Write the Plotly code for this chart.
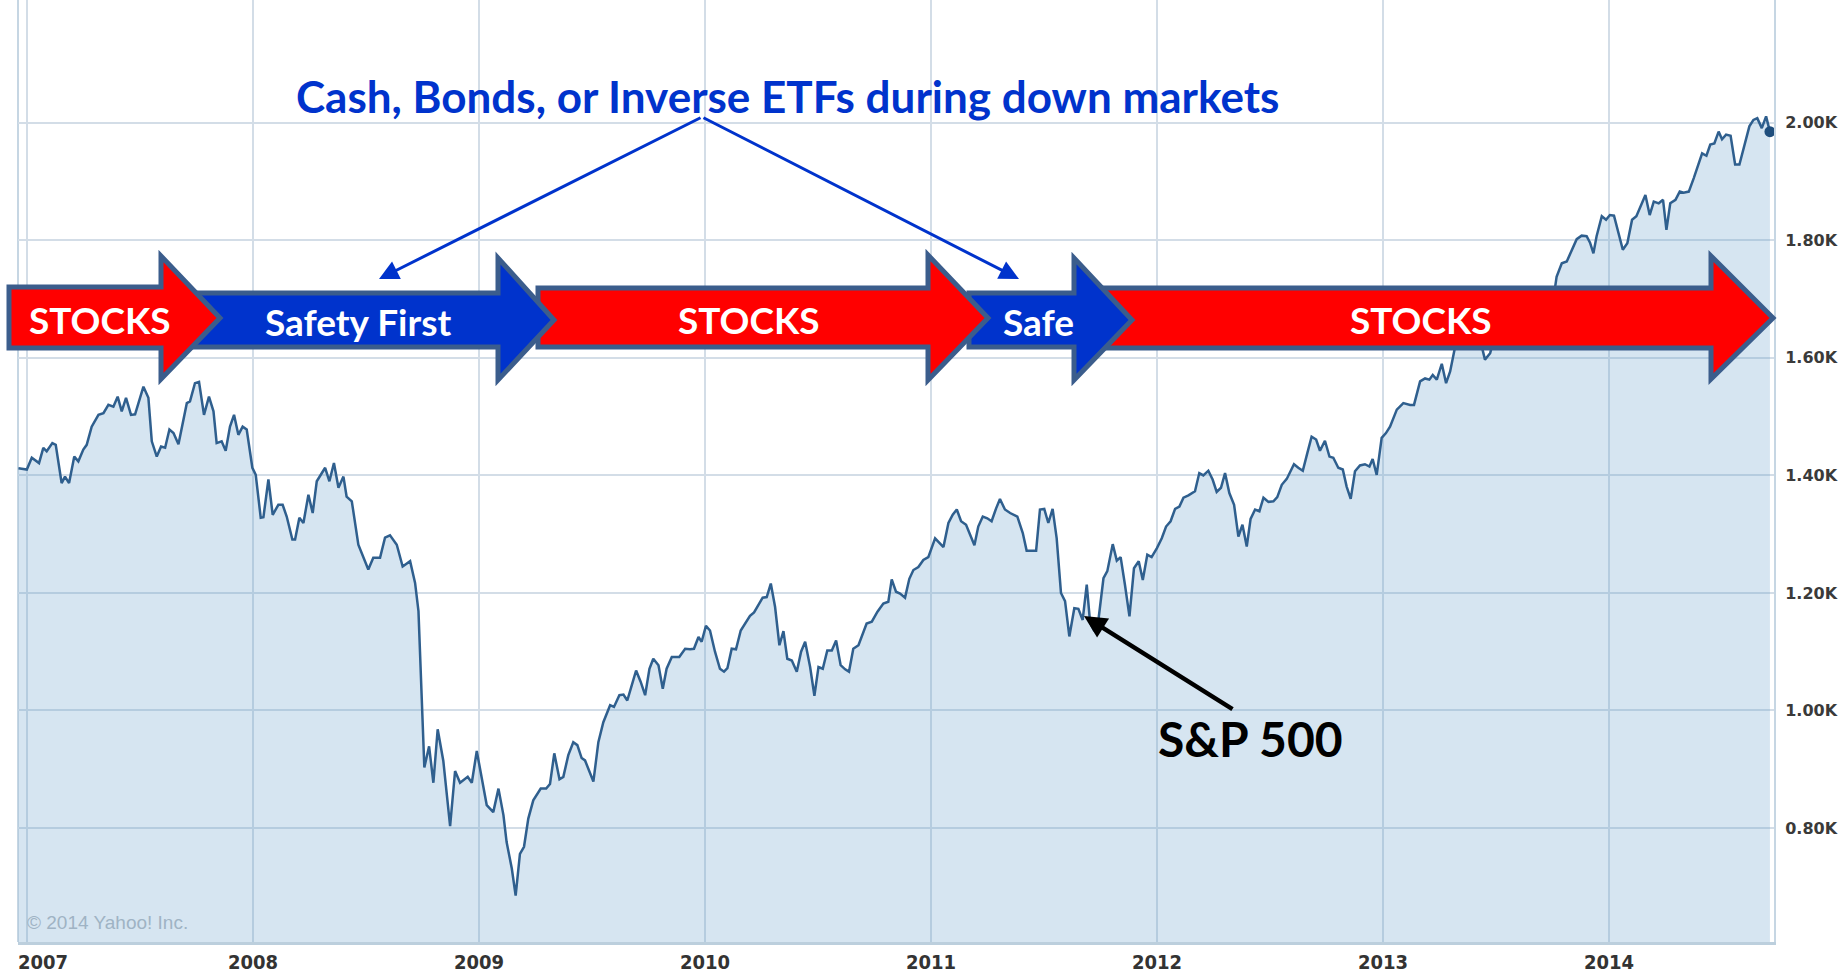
import plotly.graph_objects as go

# ---------------- data (decimal year, S&P 500 weekly close) -------------
t_0708 = [2006.962, 2006.999, 2007.021, 2007.053, 2007.072, 2007.087, 2007.112, 2007.127, 2007.153, 2007.168,
          2007.186, 2007.209, 2007.227, 2007.249, 2007.264, 2007.286, 2007.316, 2007.338, 2007.360, 2007.382,
          2007.401, 2007.419, 2007.438, 2007.460, 2007.478, 2007.515, 2007.537, 2007.552, 2007.574, 2007.593,
          2007.611, 2007.630, 2007.648, 2007.670, 2007.707, 2007.721, 2007.743, 2007.761, 2007.783, 2007.805,
          2007.825, 2007.839, 2007.861, 2007.879, 2007.898, 2007.916, 2007.935, 2007.954, 2007.972, 2007.997,
          2008.012, 2008.034, 2008.046, 2008.068, 2008.087, 2008.112, 2008.131, 2008.149, 2008.174, 2008.186,
          2008.205, 2008.223, 2008.245, 2008.264, 2008.282, 2008.319, 2008.338, 2008.358, 2008.378, 2008.400,
          2008.414, 2008.437, 2008.466, 2008.488, 2008.510, 2008.532, 2008.562, 2008.584, 2008.606, 2008.636,
          2008.662, 2008.695, 2008.717, 2008.732, 2008.746, 2008.758, 2008.779, 2008.798, 2008.817, 2008.842,
          2008.872, 2008.894, 2008.916, 2008.950, 2008.968, 2008.990]
v_0708 = [1412, 1410, 1430, 1421, 1447, 1441, 1455, 1452, 1387, 1398,
          1387, 1432, 1424, 1444, 1452, 1483, 1503, 1506, 1520, 1517,
          1534, 1509, 1532, 1503, 1504, 1551, 1532, 1458, 1432, 1449,
          1447, 1478, 1472, 1453, 1523, 1526, 1557, 1559, 1503, 1534,
          1509, 1455, 1458, 1442, 1483, 1503, 1469, 1483, 1478, 1413,
          1401, 1328, 1329, 1393, 1333, 1350, 1350, 1330, 1291, 1291,
          1328, 1319, 1367, 1336, 1390, 1413, 1390, 1421, 1379, 1398,
          1364, 1356, 1282, 1260, 1240, 1260, 1260, 1294, 1298, 1282,
          1245, 1254, 1217, 1169, 1027, 903, 939, 877, 968, 914,
          803, 897, 877, 887, 877, 931]

t_0910 = [2009.034, 2009.063, 2009.086, 2009.108, 2009.122, 2009.145, 2009.162, 2009.181, 2009.199, 2009.218,
          2009.240, 2009.273, 2009.297, 2009.314, 2009.333, 2009.356, 2009.373, 2009.395, 2009.417, 2009.435,
          2009.454, 2009.469, 2009.506, 2009.528, 2009.550, 2009.580, 2009.597, 2009.621, 2009.639, 2009.656,
          2009.676, 2009.695, 2009.715, 2009.735, 2009.754, 2009.771, 2009.794, 2009.813, 2009.830, 2009.853,
          2009.886, 2009.912, 2009.934, 2009.951, 2009.971, 2009.985, 2010.004, 2010.022, 2010.044, 2010.066,
          2010.084, 2010.099, 2010.118, 2010.137, 2010.158, 2010.181, 2010.199, 2010.217, 2010.236, 2010.255,
          2010.273, 2010.291, 2010.310, 2010.329, 2010.347, 2010.364, 2010.384, 2010.406, 2010.425, 2010.443,
          2010.465, 2010.484, 2010.502, 2010.521, 2010.541, 2010.561, 2010.580, 2010.600, 2010.620, 2010.637,
          2010.656, 2010.679, 2010.715, 2010.738, 2010.763, 2010.789, 2010.811, 2010.826, 2010.845, 2010.863,
          2010.885, 2010.904, 2010.922, 2010.944, 2010.966, 2010.988]
v_0910 = [839, 827, 867, 822, 776, 731, 685, 756, 768, 816,
          847, 867, 867, 875, 927, 883, 887, 924, 946, 941,
          919, 915, 879, 946, 980, 1009, 1006, 1026, 1027, 1017,
          1043, 1068, 1049, 1026, 1071, 1088, 1077, 1037, 1071, 1091,
          1091, 1105, 1104, 1105, 1125, 1117, 1144, 1136, 1100, 1071,
          1066, 1072, 1105, 1104, 1136, 1151, 1161, 1167, 1179, 1192,
          1193, 1216, 1176, 1111, 1135, 1088, 1085, 1066, 1100, 1117,
          1074, 1025, 1074, 1071, 1102, 1102, 1119, 1077, 1070, 1066,
          1105, 1111, 1148, 1151, 1168, 1182, 1185, 1223, 1202, 1199,
          1192, 1224, 1239, 1244, 1256, 1261]

t_1112 = [2011.018, 2011.037, 2011.055, 2011.077, 2011.096, 2011.114, 2011.133, 2011.155, 2011.173, 2011.192,
          2011.209, 2011.229, 2011.249, 2011.268, 2011.288, 2011.305, 2011.327, 2011.350, 2011.382, 2011.406,
          2011.423, 2011.445, 2011.465, 2011.482, 2011.501, 2011.519, 2011.538, 2011.556, 2011.575, 2011.593,
          2011.612, 2011.634, 2011.652, 2011.671, 2011.689, 2011.704, 2011.723, 2011.740, 2011.763, 2011.780,
          2011.804, 2011.822, 2011.839, 2011.858, 2011.878, 2011.898, 2011.919, 2011.937, 2011.957, 2011.976,
          2011.999, 2012.021, 2012.040, 2012.060, 2012.080, 2012.099, 2012.117, 2012.139, 2012.168, 2012.187,
          2012.205, 2012.227, 2012.246, 2012.264, 2012.283, 2012.301, 2012.320, 2012.341, 2012.360, 2012.378,
          2012.397, 2012.414, 2012.434, 2012.453, 2012.471, 2012.493, 2012.515, 2012.532, 2012.552, 2012.574,
          2012.589, 2012.606, 2012.625, 2012.645, 2012.665, 2012.684, 2012.704, 2012.721, 2012.743, 2012.763,
          2012.780, 2012.802, 2012.822, 2012.839, 2012.857, 2012.876, 2012.898, 2012.920, 2012.940, 2012.954,
          2012.972, 2012.994, 2013.013, 2013.031]
v_1112 = [1293, 1285, 1278, 1319, 1333, 1342, 1322, 1316, 1299, 1281,
          1313, 1330, 1327, 1322, 1344, 1360, 1342, 1336, 1330, 1302,
          1272, 1272, 1272, 1342, 1343, 1319, 1343, 1293, 1200, 1186,
          1126, 1174, 1173, 1154, 1214, 1149, 1135, 1152, 1225, 1237,
          1283, 1255, 1261, 1214, 1160, 1242, 1254, 1222, 1265, 1261,
          1276, 1293, 1313, 1322, 1343, 1347, 1362, 1366, 1373, 1404,
          1400, 1408, 1393, 1372, 1379, 1404, 1370, 1350, 1296, 1316,
          1279, 1326, 1342, 1339, 1362, 1355, 1356, 1363, 1384, 1394,
          1407, 1419, 1413, 1408, 1438, 1466, 1461, 1442, 1459, 1432,
          1430, 1413, 1410, 1381, 1360, 1407, 1417, 1419, 1415, 1428,
          1401, 1464, 1472, 1483]

t_1314 = [2013.061, 2013.090, 2013.120, 2013.137, 2013.164, 2013.186, 2013.205, 2013.220, 2013.238, 2013.260,
          2013.279, 2013.297, 2013.319, 2013.338, 2013.357, 2013.376, 2013.395, 2013.414, 2013.433, 2013.451,
          2013.474, 2013.490, 2013.510, 2013.529, 2013.548, 2013.567, 2013.586, 2013.605, 2013.625, 2013.644,
          2013.663, 2013.682, 2013.701, 2013.720, 2013.739, 2013.755, 2013.768, 2013.791, 2013.813, 2013.835,
          2013.857, 2013.879, 2013.901, 2013.916, 2013.931, 2013.945, 2013.968, 2013.987, 2014.004, 2014.022,
          2014.041, 2014.061, 2014.081, 2014.102, 2014.121, 2014.142, 2014.161, 2014.180, 2014.198, 2014.220,
          2014.239, 2014.254, 2014.271, 2014.294, 2014.313, 2014.330, 2014.353, 2014.375, 2014.397, 2014.412,
          2014.431, 2014.448, 2014.466, 2014.485, 2014.500, 2014.518, 2014.538, 2014.558, 2014.577, 2014.597,
          2014.621, 2014.639, 2014.656, 2014.676, 2014.695, 2014.712]
v_1314 = [1512, 1523, 1520, 1520, 1560, 1565, 1563, 1571, 1563, 1590,
          1557, 1577, 1619, 1633, 1650, 1667, 1650, 1643, 1626, 1597,
          1608, 1631, 1676, 1680, 1692, 1709, 1691, 1655, 1664, 1633,
          1655, 1688, 1710, 1692, 1690, 1703, 1738, 1761, 1764, 1784,
          1802, 1808, 1807, 1796, 1778, 1807, 1841, 1835, 1843, 1842,
          1812, 1784, 1795, 1835, 1841, 1860, 1877, 1843, 1866, 1863,
          1869, 1818, 1863, 1869, 1883, 1881, 1883, 1906, 1931, 1948,
          1944, 1963, 1965, 1985, 1972, 1980, 1978, 1929, 1929, 1957,
          1994, 2005, 2008, 1991, 2011, 1985]

years = t_0708 + t_0910 + t_1112 + t_1314
spx = v_0708 + v_0910 + v_1112 + v_1314

year_ticks = [2007, 2008, 2009, 2010, 2011, 2012, 2013, 2014]
year_labels = ["2007", "2008", "2009", "2010", "2011", "2012", "2013", "2014"]
price_ticks = [800, 1000, 1200, 1400, 1600, 1800, 2000]
price_labels = ["0.80K", "1.00K", "1.20K", "1.40K", "1.60K", "1.80K", "2.00K"]

title_text = "Cash, Bonds, or Inverse ETFs during down markets"
phase_labels = ["STOCKS", "Safety First", "STOCKS", "Safe", "STOCKS"]
series_label = "S&P 500"
credit = "© 2014 Yahoo! Inc."

# ---------------- layout geometry (pixels of the 1840x976 canvas) ----------------
W, H = 1840, 976
PL, PR, PT, PB = 18, 1774, 0, 942


def px(x):
    return (x - PL) / (PR - PL)


def py(y):
    return (PB - y) / (PB - PT)


RED, BLUE, EDGE = "#ff0000", "#0033cc", "#3b5d8c"

# big phase arrows: body left, head base, tip, body top/bottom, head top/bottom, centre y, text x
arrow_geo = [
    (9, 161, 220, 287, 348, 256, 379, 318, 100, RED),
    (185, 498, 554, 293, 347, 258, 380, 320, 358, BLUE),
    (538, 928, 988, 288, 347, 255, 380, 318, 749, RED),
    (969, 1074, 1132, 293, 347, 258, 380, 320, 1038, BLUE),
    (1100, 1711, 1773, 288, 348, 256, 379, 318, 1421, RED),
]

fig = go.Figure()
fig.add_trace(go.Scatter(
    x=years, y=spx, mode="lines",
    line=dict(color="#2f5f8e", width=2.5),
    fill="tozeroy", fillcolor="rgba(95,155,200,0.26)",
    hoverinfo="skip", showlegend=False,
))
fig.add_trace(go.Scatter(
    x=[years[-1]], y=[spx[-1]], mode="markers",
    marker=dict(color="#1f4e7d", size=11),
    hoverinfo="skip", showlegend=False,
))

shapes = []
# left border of the plot
shapes.append(dict(type="line", xref="paper", yref="paper", x0=0, x1=0, y0=0, y1=1,
                   line=dict(color="#c6d6e3", width=2), layer="below"))
for (x0, xh, xt, bt, bb, ht, hb, ym, tx, col) in reversed(arrow_geo):
    path = (f"M {px(x0)},{py(bt)} L {px(xh)},{py(bt)} L {px(xh)},{py(ht)} L {px(xt)},{py(ym)} "
            f"L {px(xh)},{py(hb)} L {px(xh)},{py(bb)} L {px(x0)},{py(bb)} Z")
    shapes.append(dict(type="path", xref="paper", yref="paper", path=path,
                       fillcolor=col, line=dict(color=EDGE, width=5), layer="above"))

annotations = []
for (x0, xh, xt, bt, bb, ht, hb, ym, tx, col), lab in zip(arrow_geo, phase_labels):
    annotations.append(dict(xref="paper", yref="paper", x=px(tx), y=py(ym + 1), text=f"<b>{lab}</b>",
                            showarrow=False, xanchor="center", yanchor="middle",
                            font=dict(family="Lato, Noto Sans, sans-serif", size=37, color="white")))

annotations.append(dict(xref="paper", yref="paper", x=px(787), y=py(96), text=f"<b>{title_text}</b>",
                        showarrow=False, xanchor="center", yanchor="middle",
                        font=dict(family="Lato, Noto Sans, sans-serif", size=44, color=BLUE)))
# connectors from the title
for hx in (379, 1019):
    annotations.append(dict(xref="paper", yref="paper", x=px(hx), y=py(279), text="",
                            showarrow=True, ax=702 - hx, ay=117 - 279, axref="pixel", ayref="pixel",
                            arrowhead=2, arrowsize=1.3, arrowwidth=3, arrowcolor=BLUE, standoff=0))
# S&P 500 label and pointer
annotations.append(dict(xref="paper", yref="paper", x=px(1250), y=py(739), text=f"<b>{series_label}</b>",
                        showarrow=False, xanchor="center", yanchor="middle",
                        font=dict(family="Lato, Noto Sans, sans-serif", size=48, color="black")))
annotations.append(dict(xref="paper", yref="paper", x=px(1084), y=py(616), text="",
                        showarrow=True, ax=1234 - 1084, ay=710 - 616, axref="pixel", ayref="pixel",
                        arrowhead=2, arrowsize=1, arrowwidth=4.5, arrowcolor="black", standoff=0))
annotations.append(dict(xref="paper", yref="paper", x=px(25), y=py(922), text=credit,
                        showarrow=False, xanchor="left", yanchor="middle",
                        font=dict(family="Liberation Sans, Arial, sans-serif", size=19, color="#9fb3c4")))
# year labels under the axis (the first one is nudged right as in the source chart)
for yr, lab in zip(year_ticks, year_labels):
    annotations.append(dict(xref="x", yref="paper", x=yr, y=py(962), text=f"<b>{lab}</b>",
                            showarrow=False, xanchor="center", yanchor="middle", borderpad=0,
                            xshift=16 if yr == year_ticks[0] else 0,
                            font=dict(family="Liberation Sans Narrow, DejaVu Sans Condensed, Arial Narrow, sans-serif",
                                      size=20, color="#333333")))

fig.update_layout(
    width=W, height=H,
    margin=dict(l=PL, r=W - PR, t=PT, b=H - PB, pad=0),
    paper_bgcolor="white", plot_bgcolor="white",
    showlegend=False,
    shapes=shapes, annotations=annotations,
    xaxis=dict(
        range=[2006.960, 2014.730], tickmode="array", tickvals=year_ticks, ticktext=year_labels,
        showticklabels=False,
        showgrid=True, gridcolor="#d3dde7", gridwidth=2, zeroline=False,
        showline=True, linecolor="#bccfdd", linewidth=3,
        ticks="", automargin=False,
    ),
    yaxis=dict(
        range=[606, 2209], side="right", tickmode="array", tickvals=price_ticks, ticktext=price_labels,
        showgrid=True, gridcolor="#d3dde7", gridwidth=2, zeroline=False,
        showline=True, linecolor="#c6d6e3", linewidth=2,
        ticks="", ticklabelstandoff=6, automargin=False,
        tickfont=dict(family="DejaVu Sans, Verdana, sans-serif", size=16, color="#3a3a3a", weight="bold"),
    ),
)

fig.write_html("out.html", config={"displayModeBar": False},
               post_script="document.body.style.margin='0';document.body.style.overflow='hidden';")
